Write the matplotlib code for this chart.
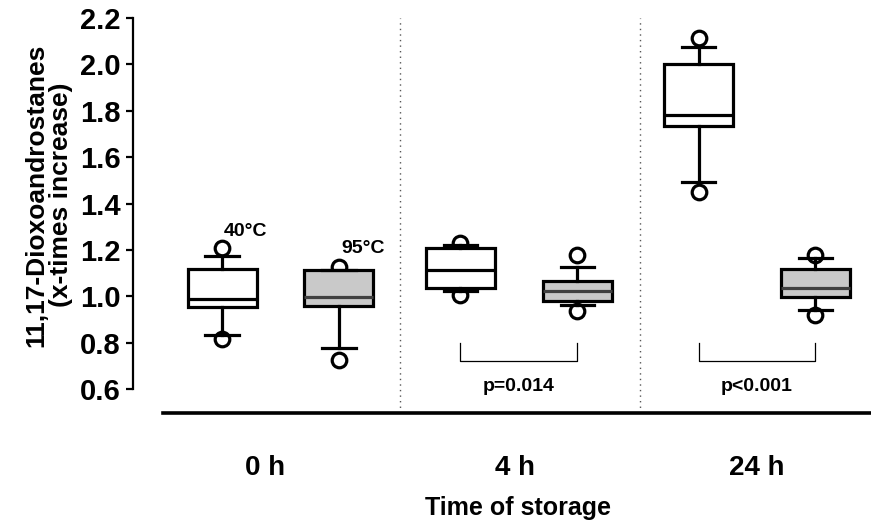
import matplotlib
matplotlib.use("Agg")
import matplotlib.pyplot as plt

plt.rcParams['font.family'] = ['Liberation Sans', 'DejaVu Sans']
plt.rcParams['font.weight'] = 'bold'

groups = ["0 h", "4 h", "24 h"]
series = ["40°C", "95°C"]
# stats per group: (low flier, whislo, q1, med, q3, whishi, high flier)
s40 = [
    (0.815, 0.834, 0.954, 0.990, 1.118, 1.174, 1.209),
    (1.005, 1.023, 1.036, 1.114, 1.209, 1.222, 1.232),
    (1.450, 1.493, 1.734, 1.782, 2.002, 2.075, 2.115),
]
s95 = [
    (0.726, 0.778, 0.959, 0.997, 1.114, 1.114, 1.125),
    (0.937, 0.963, 0.980, 1.023, 1.066, 1.127, 1.178),
    (0.920, 0.941, 0.997, 1.036, 1.118, 1.166, 1.180),
]
p_labels = [None, "p=0.014", "p<0.001"]
yticks = [0.6, 0.8, 1.0, 1.2, 1.4, 1.6, 1.8, 2.0, 2.2]

W, H = 871, 525
fig = plt.figure(figsize=(W / 100, H / 100), dpi=100)
ax = fig.add_axes([133 / W, (H - 413) / H, (W - 133) / W, (413 - 18) / H])
ax.set_xlim(-0.619, 2.478)
ax.set_ylim(0.497, 2.2)

off = 0.245
def mkstats(s):
    return dict(whislo=s[1], q1=s[2], med=s[3], q3=s[4], whishi=s[5],
                fliers=[s[0], s[6]])

lw = 2.3
common = dict(widths=0.29, capwidths=0.14, patch_artist=True, manage_ticks=False,
              whiskerprops=dict(color='black', lw=lw),
              capprops=dict(color='black', lw=lw),
              flierprops=dict(marker='o', markersize=10.5, markerfacecolor='white',
                              markeredgecolor='black', markeredgewidth=2.3))
b1 = ax.bxp([mkstats(s) for s in s40], positions=[i - off for i in range(3)],
            boxprops=dict(facecolor='white', edgecolor='black', lw=lw),
            medianprops=dict(color='black', lw=lw), **common)
b2 = ax.bxp([mkstats(s) for s in s95], positions=[i + off for i in range(3)],
            boxprops=dict(facecolor='#c9c9c9', edgecolor='black', lw=lw),
            medianprops=dict(color='#404040', lw=lw), **common)
for d in (b1, b2):
    for f in d['fliers']:
        f.set_zorder(1)

for xv in (0.5, 1.507):
    ax.axvline(xv, color='#555555', lw=1.0, ls=(0, (1, 3)))

for i, p in enumerate(p_labels):
    if p is None:
        continue
    ax.plot([i - off, i - off, i + off, i + off], [0.799, 0.721, 0.721, 0.799],
            color='black', lw=0.9)
    ax.text(i, 0.612, p, ha='center', va='center', fontsize=14, fontweight='bold')

ax.text(-0.145, 1.28, series[0], ha='center', va='center', fontsize=14, fontweight='bold')
ax.text(0.345, 1.205, series[1], ha='center', va='center', fontsize=14, fontweight='bold')

ax.spines['top'].set_visible(False)
ax.spines['right'].set_visible(False)
ax.spines['left'].set_bounds(0.6, 2.2)
ax.spines['left'].set_linewidth(1.6)
ax.spines['bottom'].set_linewidth(2.6)
ax.spines['bottom'].set_bounds(-0.493, 2.478)

ax.set_yticks(yticks)
ax.set_yticklabels([f"{v:.1f}" for v in yticks], fontsize=21, fontweight='bold')
ax.tick_params(axis='y', direction='out', length=5, width=1.6, pad=4)
ax.set_xticks([-0.065, 0.985, 2.0])
ax.set_xticklabels(groups, fontsize=20, fontweight='bold')
ax.tick_params(axis='x', length=0, pad=30)

fig.text(49 / W, 1 - 195 / H, "11,17-Dioxoandrostanes\n(x-times increase)",
         rotation=90, ha='center', va='center', fontsize=19, fontweight='bold',
         multialignment='center', linespacing=1.05)
fig.text(518 / W, 1 - 508 / H, "Time of storage", ha='center', va='center',
         fontsize=18, fontweight='bold')

fig.savefig("out.png", dpi=100)
